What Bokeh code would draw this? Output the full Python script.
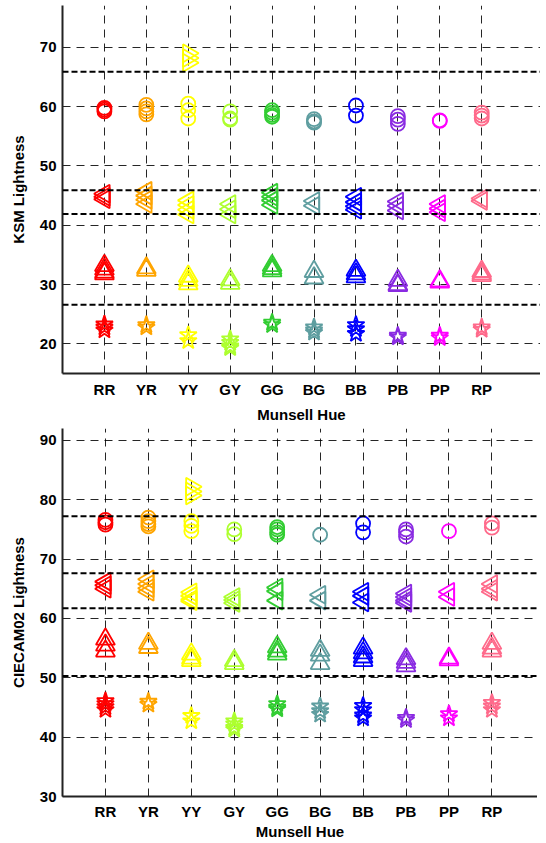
import numpy as np
from bokeh.plotting import figure
from bokeh.layouts import column
from bokeh.models import FixedTicker, Span, ColumnDataSource
from bokeh.embed import file_html
from bokeh.resources import INLINE

hues = ["RR", "YR", "YY", "GY", "GG", "BG", "BB", "PB", "PP", "RP"]
hue_colors = ["#FF0000", "#FFA500", "#FFFF00", "#ADFF2F", "#32CD32",
              "#5F9EA0", "#0000FF", "#8A2BE2", "#FF00FF", "#FF6A8B"]

# ---- KSM lightness (top panel), one list per hue ----
ksm_right = [[], [], [69.0, 68.2, 67.4], [], [], [], [], [], [], []]
ksm_circle = [[59.8, 59.5, 59.2], [60.3, 59.7, 59.2, 58.7], [60.5, 59.4, 58.0],
              [59.2, 58.0, 57.8], [59.4, 59.0, 58.6, 58.3], [57.9, 57.5, 57.3],
              [60.2, 58.5], [58.4, 57.8, 57.1], [57.7, 57.6], [59.0, 58.5, 58.0]]
ksm_left = [[45.3, 44.8, 44.4], [45.8, 45.0, 44.3, 43.6], [44.2, 43.4, 42.6, 41.8],
            [43.6, 42.7, 41.8], [45.5, 44.8, 44.2, 43.4], [44.1, 43.3],
            [44.8, 43.9, 43.2, 42.6], [44.0, 43.3, 42.5], [43.6, 42.8, 42.2],
            [44.5, 44.1]]
ksm_up = [[33.2, 32.6, 32.1, 31.8], [32.8, 32.4], [31.4, 30.7, 30.1],
          [30.8, 30.2], [33.2, 32.7, 32.3], [32.2, 31.1], [32.4, 31.8, 31.3],
          [30.7, 30.0, 29.8], [30.6, 30.4], [32.2, 31.8, 31.5]]
ksm_star = [[23.3, 22.8, 22.3], [23.2, 22.8], [21.5, 20.5], [20.8, 20.2, 19.6, 19.3],
            [23.6, 23.2], [22.8, 22.3, 21.9], [23.2, 22.5, 21.7], [21.4, 21.1],
            [21.4, 21.0], [22.8, 22.4]]
ksm_bounds = [65.9, 45.9, 41.9, 26.6]
ksm_yticks = [20, 30, 40, 50, 60, 70]

# ---- CIECAM02 lightness (bottom panel) ----
cam_right = [[], [], [82.2, 81.4, 80.7], [], [], [], [], [], [], []]
cam_circle = [[76.6, 76.2, 75.8], [77.0, 76.4, 75.9, 75.5], [76.4, 75.6, 74.7],
              [75.0, 74.2], [75.4, 75.0, 74.5, 74.1], [74.1], [76.0, 74.5],
              [75.0, 74.5, 73.8], [74.7], [76.0, 75.3]]
cam_left = [[66.2, 65.6, 65.0], [66.6, 65.8, 65.1, 64.5], [64.4, 63.8, 63.2, 62.9],
            [63.6, 63.1, 62.6], [65.2, 64.6, 63.0], [64.0, 63.0], [64.5, 63.8, 62.7],
            [64.2, 63.6, 63.0, 62.6], [64.5, 63.6], [65.8, 65.0, 64.5]]
cam_up = [[56.5, 55.5, 54.5], [55.8, 55.1], [54.0, 53.3, 52.9], [52.9, 52.4],
          [55.2, 54.5, 54.0], [54.6, 53.8, 52.4], [55.0, 54.2, 53.5, 52.9],
          [53.2, 52.6, 52.0], [53.3, 53.0], [55.8, 55.0, 54.5]]
cam_star = [[46.1, 45.6, 45.1, 44.6], [46.0, 45.5], [43.6, 42.7],
            [42.7, 42.2, 41.6, 41.3], [45.6, 45.0, 44.7], [45.2, 44.4, 43.8],
            [45.3, 44.6, 43.7, 43.2], [43.3, 42.9], [43.9, 43.2], [45.8, 45.2, 44.6]]
cam_bounds = [77.2, 67.6, 61.7, 50.3]
cam_yticks = [30, 40, 50, 60, 70, 80, 90]

FONT = "Liberation Sans"


def flat(groups):
    xs, ys, cs = [], [], []
    for i, vals in enumerate(groups):
        for v in vals:
            xs.append(i + 1)
            ys.append(v)
            cs.append(hue_colors[i])
    return ColumnDataSource(dict(x=xs, y=ys, c=cs))


def make_panel(width, height, xend, yr, yticks, ylabel, levels, bounds,
               left_border, top_border, bottom_border, xl_standoff, lbl_standoff):
    p = figure(width=width, height=height, x_range=(0, xend), y_range=yr,
               output_backend="svg", toolbar_location=None,
               min_border_left=left_border, min_border_right=0,
               min_border_top=top_border, min_border_bottom=bottom_border)
    p.outline_line_color = None
    p.background_fill_color = "white"
    p.border_fill_color = "white"

    p.xaxis.ticker = FixedTicker(ticks=list(range(1, len(hues) + 1)))
    p.xaxis.major_label_overrides = {i + 1: h for i, h in enumerate(hues)}
    p.yaxis.ticker = FixedTicker(ticks=yticks)
    for ax in (p.xaxis, p.yaxis):
        ax.axis_line_width = 2
        ax.axis_line_color = "#222222"
        ax.major_tick_in = 4
        ax.major_tick_out = 0
        ax.major_tick_line_color = "#222222"
        ax.minor_tick_line_color = None
        ax.major_label_text_font = FONT
        ax.major_label_text_font_style = "bold"
        ax.major_label_text_font_size = "15px"
        ax.major_label_text_color = "black"
        ax.axis_label_text_font = FONT
        ax.axis_label_text_font_style = "bold"
        ax.axis_label_text_font_size = "15px"
        ax.axis_label_text_color = "black"
    p.xaxis.axis_label = "Munsell Hue"
    p.yaxis.axis_label = ylabel
    p.xaxis.major_label_standoff = xl_standoff
    p.xaxis.axis_label_standoff = lbl_standoff
    p.yaxis.major_label_standoff = 6
    p.yaxis.axis_label_standoff = 10

    for g in (p.xgrid, p.ygrid):
        g.grid_line_color = "black"
        g.grid_line_alpha = 0.85
        g.grid_line_width = 1
        g.grid_line_dash = "8 6"

    for b in bounds:
        p.add_layout(Span(location=b, dimension="width", line_color="black",
                          line_width=2, line_dash="6 3"))

    for groups, marker, angle, size in levels:
        src = flat(groups)
        p.scatter("x", "y", source=src, marker=marker, angle=angle, size=size,
                  fill_color=None, line_color="c", line_width=1.8)
    return p


ksm_levels = [(ksm_right, "triangle", -np.pi / 2, 18),
              (ksm_circle, "circle", 0, 14),
              (ksm_left, "triangle", np.pi / 2, 18),
              (ksm_up, "triangle", 0, 19),
              (ksm_star, "star", 0, 18)]
cam_levels = [(cam_right, "triangle", -np.pi / 2, 18),
              (cam_circle, "circle", 0, 14),
              (cam_left, "triangle", np.pi / 2, 18),
              (cam_up, "triangle", 0, 19),
              (cam_star, "star", 0, 18)]

p1 = make_panel(540, 428, 478 / 41.92, (15.0, 77.06), ksm_yticks, "KSM Lightness",
                ksm_levels, ksm_bounds, 62, 5, 55, 7, 5)
p2 = make_panel(537, 414, 476 / 43.03, (30, 92), cam_yticks, "CIECAM02 Lightness",
                cam_levels, cam_bounds, 61, 0, 42, 6, 0)

layout = column(p1, p2, spacing=0)
open("out.html", "w").write(file_html(layout, INLINE))
